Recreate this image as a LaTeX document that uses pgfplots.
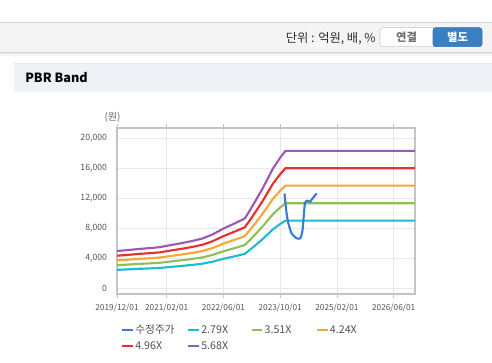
\documentclass[border=0pt]{standalone}
\usepackage{fontspec}
\setmainfont{Noto Sans CJK KR}
\usepackage{pgfplots}
\usepackage{pgfplotstable}
\pgfplotsset{compat=1.18}

\definecolor{cPrice}{HTML}{3A7BD5}
\definecolor{cA}{HTML}{1EBBD7}
\definecolor{cB}{HTML}{8DC153}
\definecolor{cC}{HTML}{F7A734}
\definecolor{cD}{HTML}{E8312F}
\definecolor{cE}{HTML}{9B59B6}
\definecolor{gridc}{HTML}{E8E8E8}
\definecolor{axc}{HTML}{C4C4C4}
\definecolor{tickc}{HTML}{555555}
\definecolor{barbg}{HTML}{F4F4F4}
\definecolor{barline}{HTML}{D4D4D4}
\definecolor{secbg}{HTML}{EEF2F7}
\definecolor{secline}{HTML}{E2E5EA}
\definecolor{btnblue}{HTML}{3A7FC0}

% months since 2019/12/01
\pgfplotstableread{
m v
0 2422
3 2483
6 2553
9 2609
12 2673
15 2804
18 2930
21 3069
24 3236
27 3515
30 3892
33 4213
36 4548
37 4910
39 5692
41 6501
44 7840
46 8537
47.5 8984
84 8984
}\tA
\pgfplotstableread{
m v
0 3047
3 3124
6 3212
9 3282
12 3363
15 3528
18 3686
21 3861
24 4072
27 4423
30 4896
33 5300
36 5721
37 6178
39 7160
41 8178
44 9863
46 10741
47.5 11302
84 11302
}\tB
\pgfplotstableread{
m v
0 3680
3 3774
6 3880
9 3964
12 4062
15 4261
18 4452
21 4664
24 4918
27 5342
30 5915
33 6402
36 6911
37 7462
39 8650
41 9879
44 11914
46 12974
47.5 13653
84 13653
}\tC
\pgfplotstableread{
m v
0 4305
3 4414
6 4538
9 4638
12 4752
15 4985
18 5208
21 5456
24 5754
27 6250
30 6919
33 7490
36 8085
37 8730
39 10118
41 11557
44 13938
46 15178
47.5 15971
84 15971
}\tD
\pgfplotstableread{
m v
0 4930
3 5055
6 5197
9 5311
12 5441
15 5708
18 5964
21 6248
24 6589
27 7157
30 7924
33 8577
36 9258
37 9997
39 11587
41 13234
44 15961
46 17381
47.5 18290
84 18290
}\tE
\pgfplotstableread{
m v
47.2 12600
47.8 9960
48.3 8630
49.2 7300
50.6 6630
51.7 6630
52.3 7740
52.7 9960
53.0 11380
53.6 11640
54.4 11510
54.8 11730
55.5 12170
56.3 12620
}\tP

\begin{document}
\begin{tikzpicture}
\useasboundingbox (0,0) rectangle (369pt,-271.5pt);
\fill[white] (0,0) rectangle (369pt,-271.5pt);
\begin{scope}[x=0.75pt,y=-0.75pt]
  % top toolbar
  \fill[barbg] (0,22) rectangle (492,52);
  \draw[barline, line width=0.75pt] (0,22.5) -- (492,22.5);
  \fill[gray!35] (0,52) rectangle (492,53);
  \fill[gray!18] (0,53) rectangle (492,54);
  \fill[gray!8] (0,54) rectangle (492,55.5);
  \node[anchor=east, text=black!82, font=\fontsize{9.2}{10}\selectfont, inner sep=0] at (376,38.5) {단위 : 억원, 배, \%};
  \filldraw[fill=white, draw=black!22, rounded corners=2pt] (380,27.7) rectangle (440,46.7);
  \filldraw[fill=btnblue, draw=btnblue!90!black, rounded corners=2pt] (433,27.7) rectangle (482,46.7);
  \fill[btnblue] (433,28.1) rectangle (437,46.3);
  \node[text=black!55, font=\fontsize{8.5}{10}\selectfont\bfseries, inner sep=0] at (406.5,37.5) {연결};
  \node[text=white, font=\fontsize{8.5}{10}\selectfont\bfseries, inner sep=0] at (457.5,37.5) {별도};
  % section header
  \fill[secbg] (14,63) rectangle (492,92);
  \draw[secline, line width=0.75pt] (14,63.4) -- (492,63.4);
  \node[anchor=west, text=black, font=\fontsize{9.5}{11}\selectfont\bfseries, inner sep=0] at (25,77.5) {PBR Band};
  \node[text=black!60, font=\fontsize{7.5}{9}\selectfont, inner sep=0] at (112.5,117) {(원)};
\end{scope}
\begin{axis}[
  at={(87.75pt,-220.5pt)}, anchor=south west,
  scale only axis, width=223.5pt, height=124.5pt,
  xmin=0, xmax=84, ymin=-800, ymax=21333,
  xtick={0,14,30,46,62,78},
  xticklabels={2019/12/01,2021/02/01,2022/06/01,2023/10/01,2025/02/01,2026/06/01},
  ytick={0,4000,8000,12000,16000,20000},
  scaled y ticks=false,
  /pgf/number format/assume math mode=true,
  /pgf/number format/1000 sep={,},
  grid=major, grid style={gridc, line width=0.6pt},
  axis line style={axc, line width=0.8pt},
  tick align=outside, major tick length=3pt,
  xtick style={axc, line width=0.6pt}, ytick style={draw=none},
  tick label style={text=tickc},
  x tick label style={font=\fontsize{6.2}{7}\selectfont, yshift=-1pt},
  y tick label style={font=\fontsize{6.5}{7}\selectfont, xshift=-1pt},
  legend style={at={(0.0135,-0.172)}, anchor=north west, draw=none, fill=none,
     font=\fontsize{8}{9}\selectfont, text=black!68, inner sep=0pt,
     nodes={inner sep=1pt, text height=7pt, text depth=2pt},
     row sep=1pt, legend columns=4},
  legend cell align=left,
  legend image code/.code={\draw[#1, line width=1.5pt] (0pt,0pt) -- (8pt,0pt);},
  every axis plot/.append style={line width=1.6pt},
]
\addlegendimage{cPrice}
\addlegendentry{\makebox[38pt][l]{수정주가}}
\addplot[cA, no marks] table[x=m,y=v] {\tA};
\addlegendentry{\makebox[36pt][l]{2.79X}}
\addplot[cB, no marks] table[x=m,y=v] {\tB};
\addlegendentry{\makebox[37.5pt][l]{3.51X}}
\addplot[cC, no marks] table[x=m,y=v] {\tC};
\addlegendentry{\makebox[38pt][l]{4.24X}}
\addplot[cD, no marks] table[x=m,y=v] {\tD};
\addlegendentry{4.96X}
\addplot[cE, no marks] table[x=m,y=v] {\tE};
\addlegendentry{5.68X}
\addplot[cPrice, no marks, smooth, tension=0.3, forget plot] table[x=m,y=v] {\tP};
\end{axis}
\end{tikzpicture}
\end{document}
